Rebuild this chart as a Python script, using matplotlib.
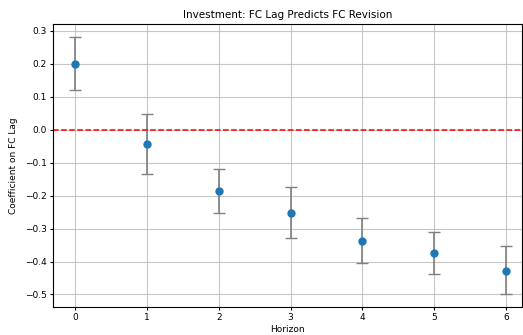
import numpy as np
import matplotlib
matplotlib.use('Agg')
import matplotlib.pyplot as plt

# Coeficientes por horizonte y sus intervalos
horizon = [0, 1, 2, 3, 4, 5, 6]
coef = [0.200, -0.043, -0.187, -0.252, -0.337, -0.373, -0.428]
lower = [0.120, -0.133, -0.253, -0.330, -0.405, -0.437, -0.500]
upper = [0.281, 0.047, -0.120, -0.173, -0.267, -0.310, -0.353]

coef = np.array(coef)
yerr = [coef - np.array(lower), np.array(upper) - coef]

fig = plt.figure(figsize=(5.23, 3.35), dpi=100)
ax = fig.add_axes([53 / 523, 1 - 307 / 335, 469 / 523, 283 / 335])

ax.errorbar(horizon, coef, yerr=yerr, fmt='o', color='tab:blue',
            ecolor='gray', capsize=4, markersize=5, elinewidth=1.2)
ax.axhline(0, color='red', linestyle='--', linewidth=1.1)

ax.set_xlim(-0.306, 6.22)
ax.set_ylim(-0.538, 0.321)
ax.set_xticks(horizon)
ax.grid(True, alpha=0.7)
ax.set_title('Investment: FC Lag Predicts FC Revision', fontsize=7.5, pad=4)
ax.set_xlabel('Horizon', fontsize=6.5, labelpad=2)
ax.set_ylabel('Coefficient on FC Lag', fontsize=6.5, labelpad=5)
ax.tick_params(labelsize=6.5, length=2.5, pad=2)

fig.savefig('out.png', dpi=100)
